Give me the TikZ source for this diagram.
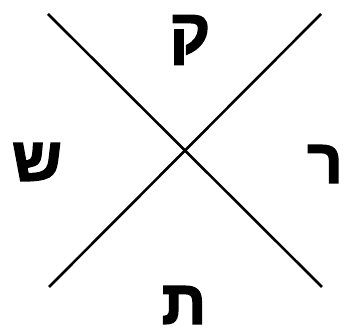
\documentclass[tikz,border=0pt]{standalone}
\usepackage{fontspec}
\newfontfamily\hebfont[Script=Hebrew,FakeBold=2.5]{Liberation Sans Bold}
\TeXXeTstate=1
\usetikzlibrary{positioning}
\tikzset{letter/.style={font=\hebfont\fontsize{62}{62}\selectfont,inner sep=0pt}}
\newcommand{\heb}[1]{\beginR #1\endR}

\begin{document}
\begin{tikzpicture}[x=1pt,y=-1pt]
\useasboundingbox (0,0) rectangle (346,336);
\coordinate (nw) at (48,14);\coordinate (se) at (322,287);
\coordinate (ne) at (321,14);\coordinate (sw) at (49,287);
\draw[line width=2.6pt] (nw)--(se);
\draw[line width=2.6pt] (ne)--(sw);
\node[letter] (kof) at (190,40){\heb{ק}};
\node[letter] (shin) at (37,162){\heb{ש}};
\node[letter] (resh) at (325,164){\heb{ר}};
\node[letter] (tav) at (184,305){\heb{ת}};
\end{tikzpicture}
\end{document}
